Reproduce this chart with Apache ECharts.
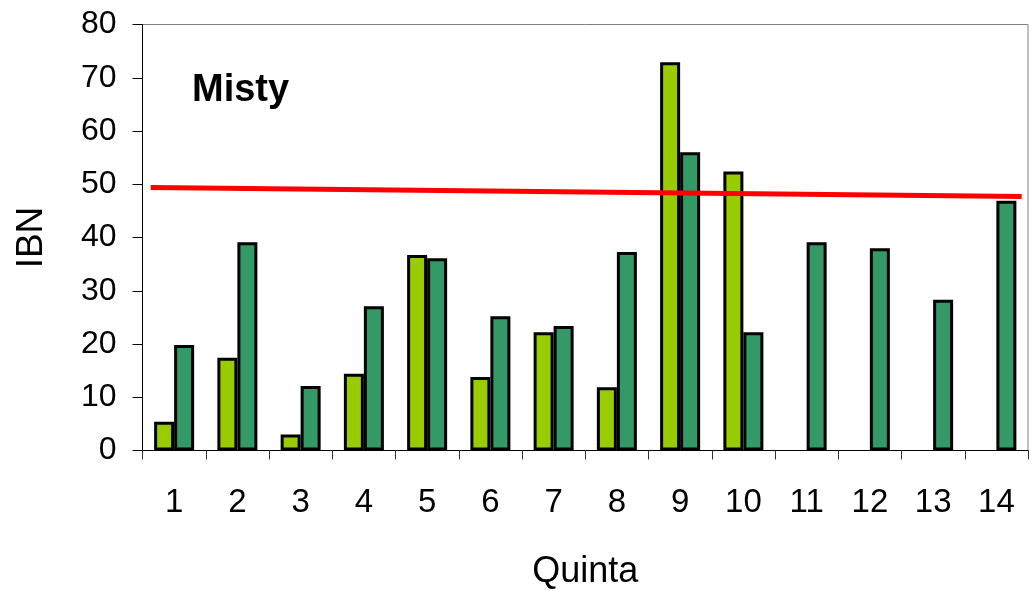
<!DOCTYPE html>
<html>
<head>
<meta charset="utf-8">
<script src="https://cdn.jsdelivr.net/npm/echarts@6/dist/echarts.min.js"></script>
<style>
html,body{margin:0;padding:0;background:#fff;}
#chart{width:1035px;height:591px;}
</style>
</head>
<body>
<div id="chart"></div>
<script>
var categories = ['1','2','3','4','5','6','7','8','9','10','11','12','13','14'];
var seriesLight = [5.4, 17.4, 3.0, 14.4, 36.7, 13.8, 22.2, 11.9, 72.9, 52.4, null, null, null, null];
var seriesDark = [19.8, 39.1, 12.1, 27.1, 36.1, 25.2, 23.4, 37.3, 56.0, 22.2, 39.1, 38.0, 28.3, 46.9];
var trendX = [0.13, 13.9];
var trendY = [49.4, 47.7];
var yTicks = [0, 10, 20, 30, 40, 50, 60, 70, 80];

var font = '"Liberation Sans", Arial, sans-serif';
var chart = echarts.init(document.getElementById('chart'), null, {renderer: 'canvas'});

var trendData = trendX.map(function (x, i) { return [x, trendY[i]]; });

chart.setOption({
  animation: false,
  backgroundColor: '#ffffff',
  grid: {
    left: 142.5, right: 7, top: 24.5, bottom: 140.5,
    containLabel: false,
    outerBoundsMode: 'none',
    show: true, borderColor: '#808080', borderWidth: 1, backgroundColor: 'transparent'
  },
  graphic: [{
    type: 'text',
    left: 192, top: 72,
    style: {
      text: 'Misty',
      font: 'bold 38px ' + font,
      fill: '#000'
    }
  }],
  xAxis: [{
    type: 'category',
    data: categories,
    boundaryGap: true,
    name: 'Quinta',
    nameLocation: 'middle',
    nameGap: 104,
    nameTextStyle: {fontFamily: font, fontSize: 36, color: '#000', lineHeight: 36, verticalAlign: 'top'},
    axisLine: {lineStyle: {color: '#000', width: 1}},
    axisTick: {show: true, length: 9, alignWithLabel: false, lineStyle: {color: '#333', width: 1}},
    axisLabel: {fontFamily: font, fontSize: 33, color: '#000', margin: 36, lineHeight: 33}
  }, {
    type: 'value',
    min: 0, max: 14,
    show: false
  }],
  yAxis: {
    type: 'value',
    min: 0, max: 80, interval: 10,
    name: 'IBN',
    nameLocation: 'middle',
    nameGap: 92,
    nameRotate: 90,
    nameTextStyle: {fontFamily: font, fontSize: 37, color: '#000', lineHeight: 37},
    axisLine: {show: true, lineStyle: {color: '#000', width: 1}},
    axisTick: {show: true, length: 10, lineStyle: {color: '#000', width: 1}},
    splitLine: {show: false},
    axisLabel: {
      fontFamily: font, fontSize: 32, color: '#000', margin: 26,
      formatter: function (v) { return yTicks.indexOf(v) >= 0 ? String(v) : ''; }
    }
  },
  series: [{
    type: 'bar',
    name: 'A',
    data: seriesLight,
    barWidth: 20,
    barGap: '0%',
    itemStyle: {color: '#99CC00', borderColor: '#000', borderWidth: 3}
  }, {
    type: 'bar',
    name: 'B',
    data: seriesDark,
    barWidth: 20,
    barGap: '0%',
    itemStyle: {color: '#339966', borderColor: '#000', borderWidth: 3}
  }, {
    type: 'line',
    xAxisIndex: 1,
    data: trendData,
    symbol: 'none',
    lineStyle: {color: '#FF0000', width: 5},
    z: 5
  }]
});
</script>
</body>
</html>
